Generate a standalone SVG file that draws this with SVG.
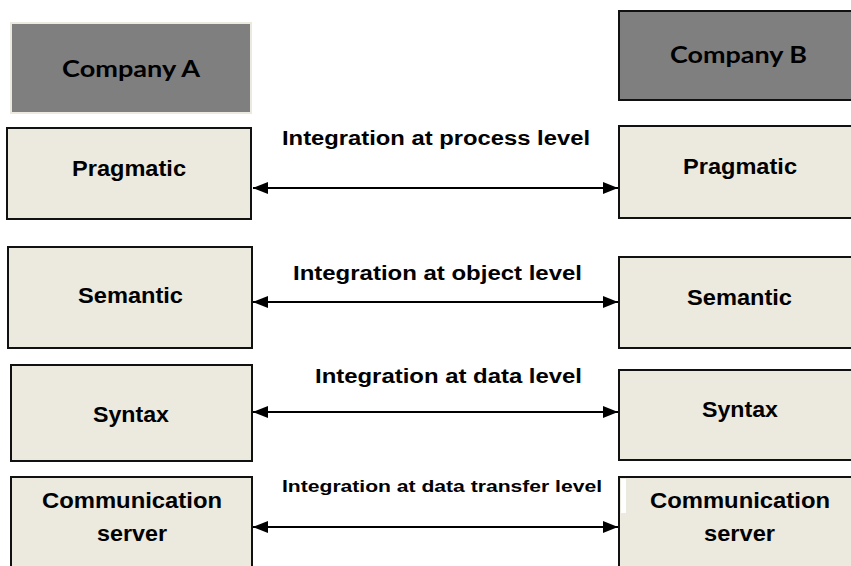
<svg xmlns="http://www.w3.org/2000/svg" width="851" height="566" viewBox="0 0 851 566">
  <defs>
    <style>
      .layer { fill: #ece9df; stroke: #111; stroke-width: 2; }
      .company { fill: #7f7f7f; }
      .lbl { font-family: "Liberation Sans", Arial, sans-serif; font-weight: bold; fill: #000; }
      .head { font-family: Lato, "Open Sans", sans-serif; font-weight: bold; fill: #000; font-size: 23px; }
      .conn line { stroke: #000; stroke-width: 2; }
    </style>
    <marker id="tip" viewBox="0 0 15 12" refX="15" refY="6" markerWidth="15" markerHeight="12" markerUnits="userSpaceOnUse" orient="auto-start-reverse">
      <path d="M0,0 L15,6 L0,12 Z" fill="#000"/>
    </marker>
  </defs>
  <rect width="851" height="566" fill="#fff"/>

  <!-- Company headers -->
  <g id="company-a">
    <rect class="company" x="11" y="23" width="240" height="90" stroke="#ece9df" stroke-width="2"/>
    <text class="head" x="62" y="77" textLength="138" lengthAdjust="spacingAndGlyphs">Company A</text>
  </g>
  <g id="company-b">
    <rect class="company" x="619" y="11" width="240" height="89" stroke="#111" stroke-width="2"/>
    <text class="head" x="670" y="63" textLength="137" lengthAdjust="spacingAndGlyphs">Company B</text>
  </g>

  <!-- Company A layers -->
  <g id="a-pragmatic">
    <rect class="layer" x="7" y="128" width="244" height="91"/>
    <text class="lbl" x="72" y="176" font-size="22" textLength="114" lengthAdjust="spacingAndGlyphs">Pragmatic</text>
  </g>
  <g id="a-semantic">
    <rect class="layer" x="8" y="247" width="244" height="101"/>
    <text class="lbl" x="78" y="303" font-size="22" textLength="105" lengthAdjust="spacingAndGlyphs">Semantic</text>
  </g>
  <g id="a-syntax">
    <rect class="layer" x="11" y="365" width="241" height="96"/>
    <text class="lbl" x="93" y="422" font-size="22" textLength="76" lengthAdjust="spacingAndGlyphs">Syntax</text>
  </g>
  <g id="a-communication">
    <rect class="layer" x="11" y="477" width="241" height="100"/>
    <text class="lbl" x="42" y="508" font-size="22" textLength="180" lengthAdjust="spacingAndGlyphs">Communication</text>
    <text class="lbl" x="97" y="541" font-size="22" textLength="70" lengthAdjust="spacingAndGlyphs">server</text>
  </g>

  <!-- Company B layers -->
  <g id="b-pragmatic">
    <rect class="layer" x="619" y="126" width="240" height="92"/>
    <text class="lbl" x="683" y="174" font-size="22" textLength="114" lengthAdjust="spacingAndGlyphs">Pragmatic</text>
  </g>
  <g id="b-semantic">
    <rect class="layer" x="619" y="257" width="240" height="91"/>
    <text class="lbl" x="687" y="305" font-size="22" textLength="105" lengthAdjust="spacingAndGlyphs">Semantic</text>
  </g>
  <g id="b-syntax">
    <rect class="layer" x="619" y="370" width="240" height="90"/>
    <text class="lbl" x="702" y="417" font-size="22" textLength="76" lengthAdjust="spacingAndGlyphs">Syntax</text>
  </g>
  <g id="b-communication">
    <rect class="layer" x="619" y="477" width="240" height="100"/>
    <rect x="621" y="479" width="5" height="34" fill="#fff"/>
    <text class="lbl" x="650" y="508" font-size="22" textLength="180" lengthAdjust="spacingAndGlyphs">Communication</text>
    <text class="lbl" x="704" y="541" font-size="22" textLength="71" lengthAdjust="spacingAndGlyphs">server</text>
  </g>

  <!-- Integration connectors -->
  <g id="connectors" class="conn">
    <line x1="253" y1="188" x2="618" y2="188" marker-start="url(#tip)" marker-end="url(#tip)"/>
    <line x1="253" y1="302" x2="618" y2="302" marker-start="url(#tip)" marker-end="url(#tip)"/>
    <line x1="253" y1="412" x2="618" y2="412" marker-start="url(#tip)" marker-end="url(#tip)"/>
    <line x1="253" y1="527" x2="618" y2="527" marker-start="url(#tip)" marker-end="url(#tip)"/>
    <text class="lbl" x="282" y="145" font-size="20" textLength="308" lengthAdjust="spacingAndGlyphs">Integration at process level</text>
    <text class="lbl" x="293" y="280" font-size="20" textLength="289" lengthAdjust="spacingAndGlyphs">Integration at object level</text>
    <text class="lbl" x="315" y="383" font-size="20" textLength="267" lengthAdjust="spacingAndGlyphs">Integration at data level</text>
    <text class="lbl" x="282" y="492" font-size="17" textLength="320" lengthAdjust="spacingAndGlyphs">Integration at data transfer level</text>
  </g>
</svg>
